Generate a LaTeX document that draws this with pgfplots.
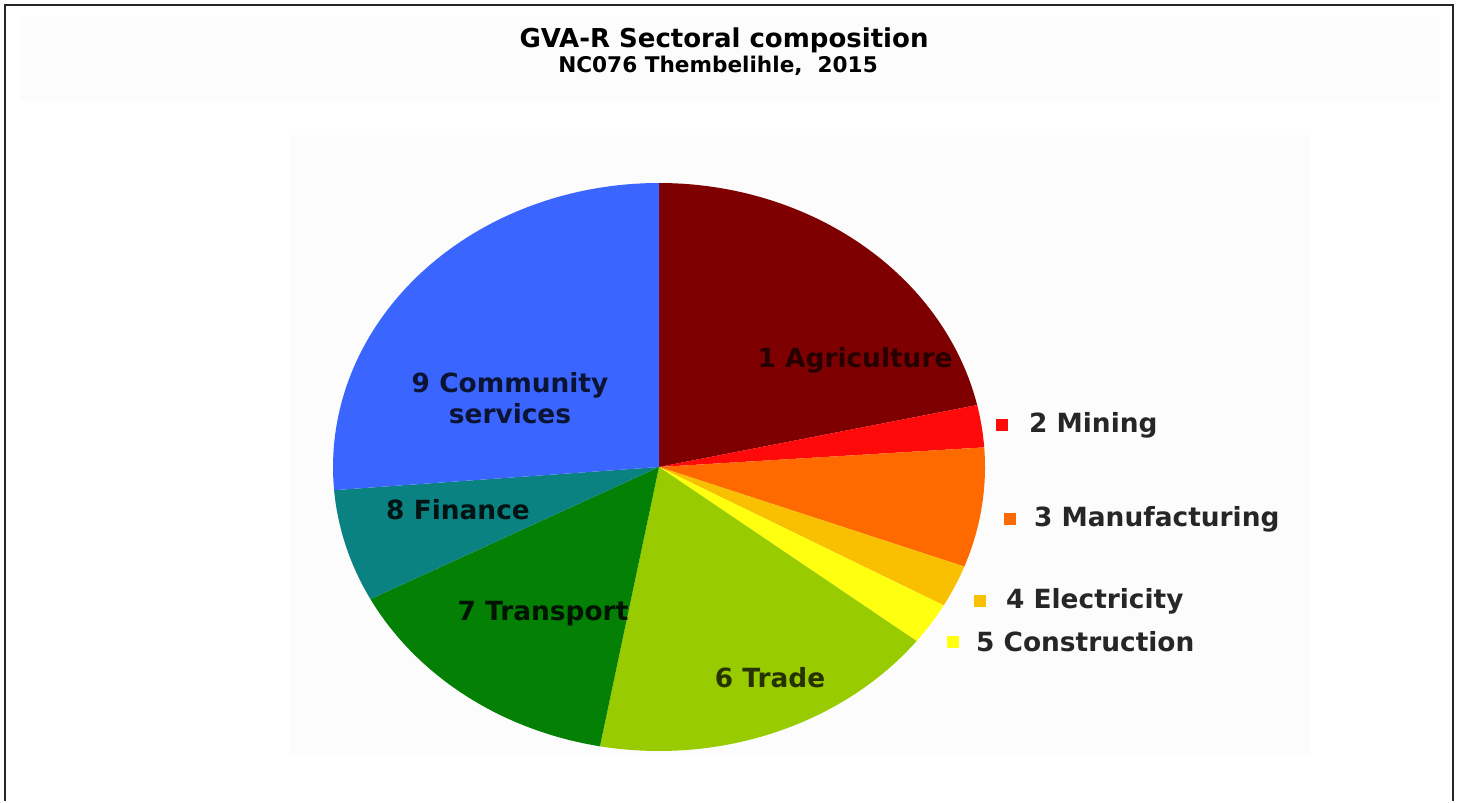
\documentclass[border=0pt]{standalone}
\usepackage{pgfplots}
\pgfplotsset{compat=1.18}
\usepackage{pgfplotstable}
\usepackage{fontspec}
\setmainfont{DejaVu Sans}

\definecolor{cAgr}{HTML}{7F0000}
\definecolor{cMin}{HTML}{FF0A0A}
\definecolor{cMan}{HTML}{FF6A00}
\definecolor{cEle}{HTML}{F8C000}
\definecolor{cCon}{HTML}{FFFF10}
\definecolor{cTra}{HTML}{99CC00}
\definecolor{cTrn}{HTML}{048004}
\definecolor{cFin}{HTML}{0A8282}
\definecolor{cCom}{HTML}{3A66FF}

% sector shares in percent, clockwise from 12 o'clock
\pgfplotstableread{
sector value col
1 21.5 cAgr
2 2.4 cMin
3 6.8 cMan
4 2.4 cEle
5 2.4 cCon
6 17.4 cTra
7 14.4 cTrn
8 6.4 cFin
9 26.3 cCom
}\piedata

\begin{document}
\begin{tikzpicture}
\begin{axis}[
  width=729.5pt, height=400.5pt, scale only axis,
  xmin=0, xmax=1459, ymin=0, ymax=801,
  hide axis, clip=false,
]
\path (axis cs:0,0) rectangle (axis cs:1459,801);
\fill[black!1] (axis cs:290,46) rectangle (axis cs:1310,666);
\fill[black!1] (axis cs:20,700) rectangle (axis cs:1440,785);

\gdef\angA{90}
\pgfplotsinvokeforeach{0,...,8}{
  \pgfplotstablegetelem{#1}{value}\of\piedata \let\v=\pgfplotsretval
  \pgfplotstablegetelem{#1}{col}\of\piedata \let\c=\pgfplotsretval
  \pgfmathsetmacro\angB{\angA - 3.6*\v}
  \edef\temp{\noexpand\addplot[fill=\c, draw=none, domain=\angB:\angA, samples=80]
     ({659+326*cos(x)},{334+284*sin(x)}) -- (axis cs:659,334) -- cycle;}
  \temp
  \xdef\angA{\angB}
}

% legend squares for the thin sectors
\addplot[only marks, mark=square*, mark size=2.6pt, color=cMin] coordinates {(1002,376)};
\addplot[only marks, mark=square*, mark size=2.6pt, color=cMan] coordinates {(1010,282)};
\addplot[only marks, mark=square*, mark size=2.6pt, color=cEle] coordinates {(980,200)};
\addplot[only marks, mark=square*, mark size=2.6pt, color=cCon] coordinates {(953,159)};

\begin{scope}[every node/.style={font=\bfseries\fontsize{13.2}{15.5}\selectfont}]
\node[anchor=west, text=black!85] at (axis cs:1022,376) {2 Mining};
\node[anchor=west, text=black!85] at (axis cs:1027,282) {3 Manufacturing};
\node[anchor=west, text=black!85] at (axis cs:999,200) {4 Electricity};
\node[anchor=west, text=black!85] at (axis cs:969,159) {5 Construction};

\node[text=black!70!cAgr] at (axis cs:855,441) {1 Agriculture};
\node[text=black!80!cCom, align=center] at (axis cs:510,403) {9 Community\\services};
\node[text=black!85!cFin] at (axis cs:458,291) {8 Finance};
\node[text=black!85!cTrn] at (axis cs:543,187) {7 Transport};
\node[text=black!75!cTra] at (axis cs:770,123) {6 Trade};
\end{scope}

\node[font=\bfseries\fontsize{13}{15}\selectfont] at (axis cs:724,761) {GVA-R Sectoral composition};
\node[font=\bfseries\fontsize{10.8}{12}\selectfont] at (axis cs:718,735) {NC076 Thembelihle,\ \ 2015};

\draw[line width=1.1pt, black!85] (axis cs:5,0) -- (axis cs:5,796) -- (axis cs:1453,796) -- (axis cs:1453,0);
\end{axis}
\end{tikzpicture}
\end{document}
